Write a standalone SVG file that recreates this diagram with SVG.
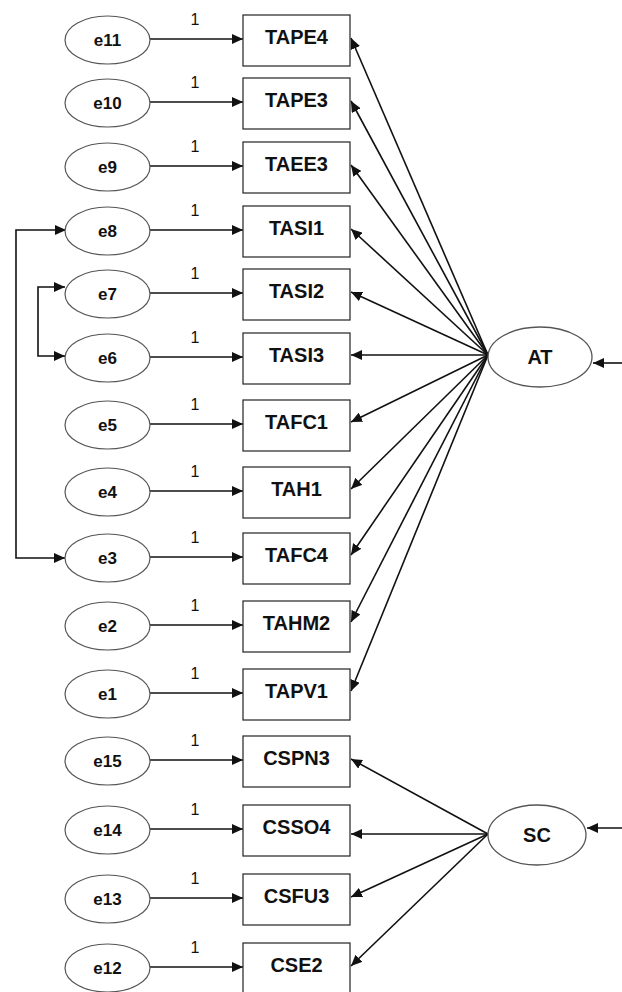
<svg xmlns="http://www.w3.org/2000/svg" width="622" height="992" viewBox="0 0 622 992">
<style>
.obs{fill:#fff;stroke:#333;stroke-width:1.3}
.err{fill:#fff;stroke:#555;stroke-width:1.2}
.lat{fill:#fff;stroke:#555;stroke-width:1.3}
.lbl{font-family:"Liberation Sans",Arial,sans-serif;font-weight:bold;font-size:20px;fill:#111;text-anchor:middle}
.elbl{font-family:"Liberation Sans",Arial,sans-serif;font-weight:bold;font-size:17px;fill:#111;text-anchor:middle}
.one{font-family:"Liberation Sans",Arial,sans-serif;font-size:16px;fill:#111;text-anchor:middle}
.c{fill:none;stroke:#111;stroke-width:1.6;marker-end:url(#ah)}
.cc{fill:none;stroke:#111;stroke-width:1.6;marker-end:url(#ah);marker-start:url(#ahs)}
</style>
<defs>
<marker id="ah" markerUnits="userSpaceOnUse" markerWidth="11" markerHeight="10" refX="11" refY="5" orient="auto"><path d="M0,0 L11,5 L0,10 z" fill="#111"/></marker>
<marker id="ahs" markerUnits="userSpaceOnUse" markerWidth="11" markerHeight="10" refX="11" refY="5" orient="auto-start-reverse"><path d="M0,0 L11,5 L0,10 z" fill="#111"/></marker>
</defs>
<g id="connectors">
<path class="c" d="M150,39 H243"/>
<path class="c" d="M150,102 H243"/>
<path class="c" d="M150,166 H243"/>
<path class="c" d="M150,230 H243"/>
<path class="c" d="M150,293 H243"/>
<path class="c" d="M150,357 H243"/>
<path class="c" d="M150,424 H243"/>
<path class="c" d="M150,491 H243"/>
<path class="c" d="M150,557 H243"/>
<path class="c" d="M150,625 H243"/>
<path class="c" d="M150,693 H243"/>
<path class="c" d="M150,760 H243"/>
<path class="c" d="M150,829 H243"/>
<path class="c" d="M150,898 H243"/>
<path class="c" d="M150,967 H243"/>
<path class="c" d="M488,355 L351,38"/>
<path class="c" d="M488,355 L351,101"/>
<path class="c" d="M488,355 L351,165"/>
<path class="c" d="M488,355 L351,229"/>
<path class="c" d="M488,355 L351,292"/>
<path class="c" d="M488,355 L351,355"/>
<path class="c" d="M488,355 L351,422"/>
<path class="c" d="M488,355 L351,489"/>
<path class="c" d="M488,355 L351,555"/>
<path class="c" d="M488,355 L351,622"/>
<path class="c" d="M488,355 L351,691"/>
<path class="c" d="M488,834 L351,759"/>
<path class="c" d="M488,834 L351,834"/>
<path class="c" d="M488,834 L351,897"/>
<path class="c" d="M488,834 L351,966"/>
<path class="c" d="M622,363 H593"/>
<path class="c" d="M622,828 H587"/>
<path class="cc" d="M66,230 H16 V558 H65"/>
<path class="cc" d="M65,287 H38 V356 H65"/>
</g>
<g id="e11"><ellipse class="err" cx="107.5" cy="40" rx="42.5" ry="24"/><text class="elbl" x="107.5" y="46">e11</text><text class="one" x="195" y="25">1</text></g>
<g id="e10"><ellipse class="err" cx="107.5" cy="103" rx="42.5" ry="24"/><text class="elbl" x="107.5" y="109">e10</text><text class="one" x="195" y="88">1</text></g>
<g id="e9"><ellipse class="err" cx="107.5" cy="167" rx="42.5" ry="24"/><text class="elbl" x="107.5" y="173">e9</text><text class="one" x="195" y="152">1</text></g>
<g id="e8"><ellipse class="err" cx="107.5" cy="231" rx="42.5" ry="24"/><text class="elbl" x="107.5" y="237">e8</text><text class="one" x="195" y="216">1</text></g>
<g id="e7"><ellipse class="err" cx="107.5" cy="294" rx="42.5" ry="24"/><text class="elbl" x="107.5" y="300">e7</text><text class="one" x="195" y="279">1</text></g>
<g id="e6"><ellipse class="err" cx="107.5" cy="358" rx="42.5" ry="24"/><text class="elbl" x="107.5" y="364">e6</text><text class="one" x="195" y="343">1</text></g>
<g id="e5"><ellipse class="err" cx="107.5" cy="425" rx="42.5" ry="24"/><text class="elbl" x="107.5" y="431">e5</text><text class="one" x="195" y="410">1</text></g>
<g id="e4"><ellipse class="err" cx="107.5" cy="492" rx="42.5" ry="24"/><text class="elbl" x="107.5" y="498">e4</text><text class="one" x="195" y="477">1</text></g>
<g id="e3"><ellipse class="err" cx="107.5" cy="558" rx="42.5" ry="24"/><text class="elbl" x="107.5" y="564">e3</text><text class="one" x="195" y="543">1</text></g>
<g id="e2"><ellipse class="err" cx="107.5" cy="626" rx="42.5" ry="24"/><text class="elbl" x="107.5" y="632">e2</text><text class="one" x="195" y="611">1</text></g>
<g id="e1"><ellipse class="err" cx="107.5" cy="694" rx="42.5" ry="24"/><text class="elbl" x="107.5" y="700">e1</text><text class="one" x="195" y="679">1</text></g>
<g id="e15"><ellipse class="err" cx="107.5" cy="761" rx="42.5" ry="24"/><text class="elbl" x="107.5" y="767">e15</text><text class="one" x="195" y="746">1</text></g>
<g id="e14"><ellipse class="err" cx="107.5" cy="830" rx="42.5" ry="24"/><text class="elbl" x="107.5" y="836">e14</text><text class="one" x="195" y="815">1</text></g>
<g id="e13"><ellipse class="err" cx="107.5" cy="899" rx="42.5" ry="24"/><text class="elbl" x="107.5" y="905">e13</text><text class="one" x="195" y="884">1</text></g>
<g id="e12"><ellipse class="err" cx="107.5" cy="968" rx="42.5" ry="24"/><text class="elbl" x="107.5" y="974">e12</text><text class="one" x="195" y="953">1</text></g>
<g id="TAPE4"><rect class="obs" x="243" y="15" width="107" height="51"/><text class="lbl" x="296.5" y="44">TAPE4</text></g>
<g id="TAPE3"><rect class="obs" x="243" y="78" width="107" height="51"/><text class="lbl" x="296.5" y="107">TAPE3</text></g>
<g id="TAEE3"><rect class="obs" x="243" y="142" width="107" height="51"/><text class="lbl" x="296.5" y="171">TAEE3</text></g>
<g id="TASI1"><rect class="obs" x="243" y="206" width="107" height="51"/><text class="lbl" x="296.5" y="235">TASI1</text></g>
<g id="TASI2"><rect class="obs" x="243" y="269" width="107" height="51"/><text class="lbl" x="296.5" y="298">TASI2</text></g>
<g id="TASI3"><rect class="obs" x="243" y="333" width="107" height="51"/><text class="lbl" x="296.5" y="362">TASI3</text></g>
<g id="TAFC1"><rect class="obs" x="243" y="400" width="107" height="51"/><text class="lbl" x="296.5" y="429">TAFC1</text></g>
<g id="TAH1"><rect class="obs" x="243" y="467" width="107" height="51"/><text class="lbl" x="296.5" y="496">TAH1</text></g>
<g id="TAFC4"><rect class="obs" x="243" y="533" width="107" height="51"/><text class="lbl" x="296.5" y="562">TAFC4</text></g>
<g id="TAHM2"><rect class="obs" x="243" y="601" width="107" height="51"/><text class="lbl" x="296.5" y="630">TAHM2</text></g>
<g id="TAPV1"><rect class="obs" x="243" y="669" width="107" height="51"/><text class="lbl" x="296.5" y="698">TAPV1</text></g>
<g id="CSPN3"><rect class="obs" x="243" y="736" width="107" height="51"/><text class="lbl" x="296.5" y="765">CSPN3</text></g>
<g id="CSSO4"><rect class="obs" x="243" y="805" width="107" height="51"/><text class="lbl" x="296.5" y="834">CSSO4</text></g>
<g id="CSFU3"><rect class="obs" x="243" y="874" width="107" height="51"/><text class="lbl" x="296.5" y="903">CSFU3</text></g>
<g id="CSE2"><rect class="obs" x="243" y="943" width="107" height="51"/><text class="lbl" x="296.5" y="972">CSE2</text></g>
<g id="AT"><ellipse class="lat" cx="540" cy="357" rx="52" ry="30"/><text class="lbl" x="540" y="364">AT</text></g>
<g id="SC"><ellipse class="lat" cx="537" cy="835" rx="49" ry="30"/><text class="lbl" x="537" y="842">SC</text></g>
</svg>
